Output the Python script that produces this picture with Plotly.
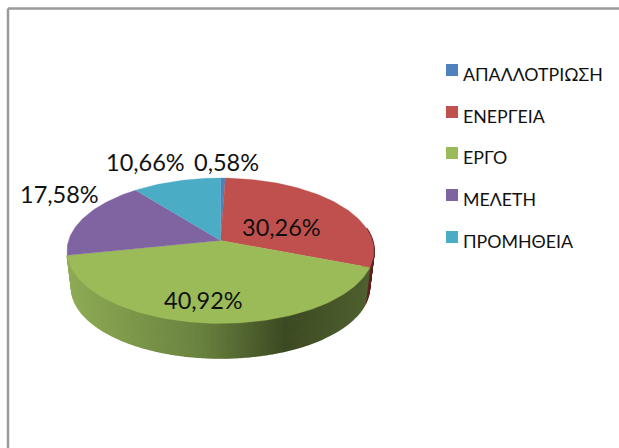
import numpy as np
import plotly.graph_objects as go

# ---- data ----
categories = ["ΑΠΑΛΛΟΤΡΙΩΣΗ", "ΕΝΕΡΓΕΙΑ", "ΕΡΓΟ", "ΜΕΛΕΤΗ", "ΠΡΟΜΗΘΕΙΑ"]
values = [0.58, 30.26, 40.92, 17.58, 10.66]

# ---- style ----
colors = ["#4f81bd", "#c0504d", "#9bbb59", "#8064a2", "#4bacc6"]
FONT = "Lato, Open Sans, sans-serif"
LABEL_POS = [(226, 161.5), (281, 226.5), (203, 299.5), (59, 193.5), (145, 161.5)]
LEGEND_Y = [70, 112, 153, 195, 237]

CX, CY, R, A, K = 220.5, 240.5, 152.0, 71.3, 0.141
DEPTH, SHRINK = 37.0, 0.97


def project(theta_deg, radius=1.0, dz=0.0, s=1.0):
    t = np.radians(theta_deg)
    u, v = radius * np.sin(t), -radius * np.cos(t)
    d = 1 - K * v
    return CX + s * R * u / d, CY + dz + s * A * v / d


def lerp_hex(stops, x):
    xs = [p[0] for p in stops]
    rgb = [np.interp(x, xs, [p[1][i] for p in stops]) for i in range(3)]
    return "rgb(%d,%d,%d)" % tuple(int(round(c)) for c in rgb)


GREEN_WALL = [(68, (143, 172, 85)), (200, (106, 130, 63)), (285, (60, 74, 34)),
              (372, (80, 98, 48))]
RED_WALL = [(360, (110, 40, 38)), (375, (90, 30, 28))]

fig = go.Figure()

# cumulative slice bounds, clockwise from 12 o'clock
bounds = np.concatenate([[0], np.cumsum(values)]) * 3.6

# side wall, drawn as narrow shaded strips (front half only)
for i, ramp in ((1, RED_WALL), (2, GREEN_WALL)):
    start, end = max(bounds[i], 80), min(bounds[i + 1], 275)
    edges = np.arange(start, end + 0.75, 0.75)
    edges[-1] = end
    for a0, a1 in zip(edges[:-1], edges[1:]):
        ang = np.array([a0, a1])
        x0, y0 = project(ang)
        x1, y1 = project(ang[::-1], dz=DEPTH, s=SHRINK)
        col = lerp_hex(ramp, (x0.mean() + x1.mean()) / 2)
        fig.add_trace(go.Scatter(
            x=np.r_[x0, x1], y=np.r_[y0, y1], mode="lines", fill="toself",
            fillcolor=col, line=dict(color=col, width=1.5),
            hoverinfo="skip", showlegend=False))

# top face
for i, name in enumerate(categories):
    ang = np.linspace(bounds[i], bounds[i + 1], max(3, int(values[i] * 3)))
    x, y = project(ang)
    fig.add_trace(go.Scatter(
        x=np.r_[CX, x, CX], y=np.r_[CY, y, CY], mode="lines", fill="toself",
        fillcolor=colors[i], line=dict(color=colors[i], width=0.3),
        name=name, hoverinfo="name", showlegend=False))

# legend swatches and names
fig.add_trace(go.Scatter(
    x=[452] * len(categories), y=LEGEND_Y, mode="markers",
    marker=dict(symbol="square", size=12, color=colors),
    hoverinfo="skip", showlegend=False))
for name, ly in zip(categories, LEGEND_Y):
    fig.add_annotation(x=461, y=ly + 3.5, text=name, showarrow=False, xanchor="left",
                       font=dict(family=FONT, size=17.8, color="#111111"))

# data labels
for v, (lx, ly) in zip(values, LABEL_POS):
    fig.add_annotation(x=lx, y=ly, text=f"{v:.2f}%".replace(".", ","), showarrow=False,
                       font=dict(family=FONT, size=23.5, color="#111111"))

# chart frame: top and left edges only are in view
for x0, y0, x1, y1 in ((8, 8.5, 625, 8.5), (8, 8.5, 8, 455)):
    fig.add_shape(type="line", x0=x0, y0=y0, x1=x1, y1=y1,
                  line=dict(color="#9a9a9a", width=2.5))

fig.update_layout(
    width=619, height=448, margin=dict(l=0, r=0, t=0, b=0),
    paper_bgcolor="white", plot_bgcolor="white",
    xaxis=dict(range=[0, 619], visible=False, fixedrange=True),
    yaxis=dict(range=[448, 0], visible=False, fixedrange=True),
)
fig.write_html("out.html", config=dict(displayModeBar=False),
               post_script="document.body.style.margin='0';document.documentElement.style.overflow='hidden';")
